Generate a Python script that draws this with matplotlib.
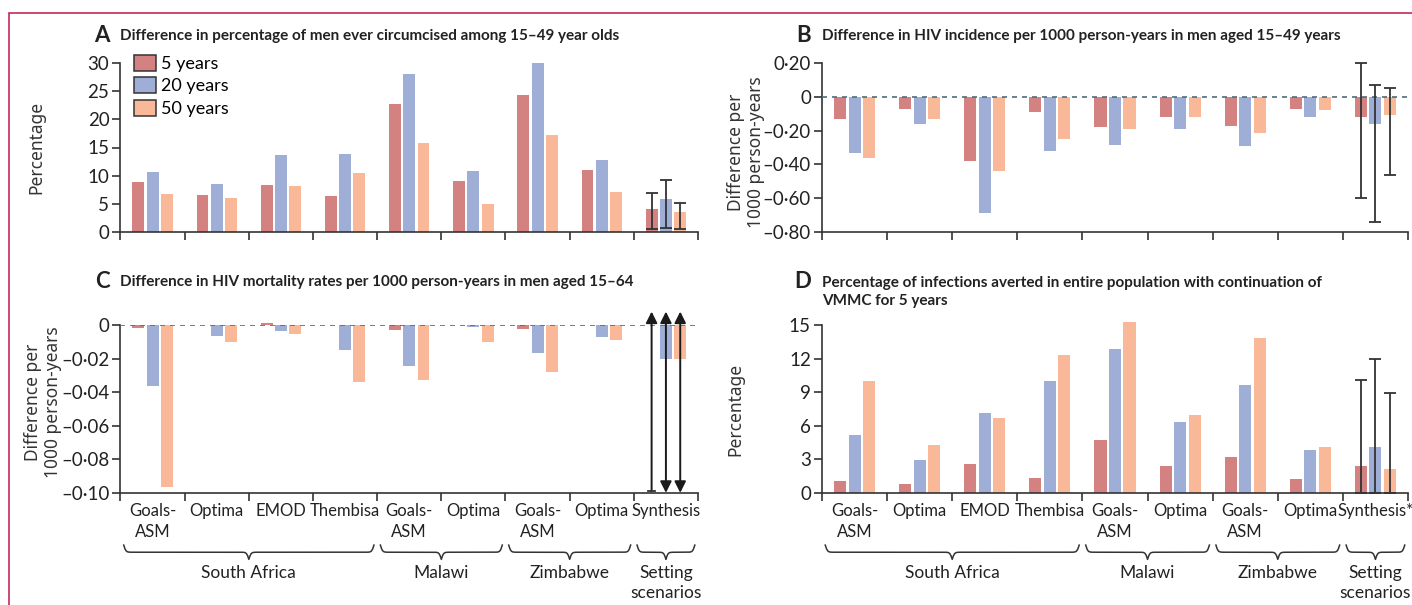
"""
VMMC scenarios: 4 panels of grouped bars (5, 20, 50 years) per model/setting
"""
import numpy as np
import matplotlib
matplotlib.use("Agg")
import matplotlib.pyplot as plt
from matplotlib.patches import Patch, Rectangle
from matplotlib import transforms

plt.rcParams['font.family'] = ['Lato', 'DejaVu Sans']

categories = ["Goals-\nASM", "Optima", "EMOD", "Thembisa", "Goals-\nASM",
              "Optima", "Goals-\nASM", "Optima", "Synthesis"]
groups = ["South Africa", "Malawi", "Zimbabwe", "Setting\nscenarios"]
group_first = [0, 4, 6, 8]
group_last = [3, 5, 7, 8]
series = ["5 years", "20 years", "50 years"]
colors = ["#d48181", "#9eaed6", "#f9b898"]

# A - difference in % men circumcised
a_5y = [8.8, 6.6, 8.4, 6.4, 22.8, 9.1, 24.4, 11.0, 4.1]
a_20y = [10.7, 8.6, 13.6, 13.8, 28.0, 10.9, 30.0, 12.7, 5.9]
a_50y = [6.8, 6.1, 8.2, 10.4, 15.8, 5.0, 17.3, 7.1, 3.6]
a_ci_low = [0.5, 0.7, 0.5]
a_ci_high = [6.9, 9.2, 5.1]

# B - difference in HIV incidence
b_5y = [-0.13, -0.07, -0.38, -0.09, -0.18, -0.12, -0.17, -0.07, -0.12]
b_20y = [-0.335, -0.16, -0.685, -0.32, -0.285, -0.19, -0.29, -0.12, -0.16]
b_50y = [-0.36, -0.13, -0.44, -0.25, -0.19, -0.12, -0.215, -0.08, -0.11]
b_ci_low = [-0.60, -0.74, -0.46]
b_ci_high = [0.20, 0.07, 0.05]

# C - difference in HIV mortality
c_5y = [-0.002, 0.0, 0.0012, 0.0, -0.003, 0.0, -0.0022, 0.0, 0.0]
c_20y = [-0.0366, -0.0064, -0.0034, -0.0147, -0.0243, -0.001, -0.0165, -0.007, -0.02]
c_50y = [-0.0966, -0.01, -0.0052, -0.034, -0.033, -0.01, -0.0277, -0.0088, -0.02]
c_ci_low = [-0.099, -0.0999, -0.0999]
c_ci_high = [0.008, 0.008, 0.008]
c_open_low = [False, True, True]   # interval goes past the axis -> arrow
c_open_high = [True, True, True]

# D - % infections averted
d_5y = [1.05, 0.8, 2.6, 1.38, 4.73, 2.43, 3.2, 1.29, 2.37]
d_20y = [5.2, 2.96, 7.1, 9.97, 12.87, 6.38, 9.67, 3.86, 4.13]
d_50y = [10.0, 4.3, 6.74, 12.28, 15.27, 7.0, 13.83, 4.07, 2.1]
d_ci_low = [0.0, 0.0, 0.0]
d_ci_high = [10.1, 11.95, 8.9]

W, H = 1412, 605
fig = plt.figure(figsize=(W / 100, H / 100), dpi=100)

def rect(left, top, right, bottom):
    return [left / W, 1 - bottom / H, (right - left) / W, (bottom - top) / H]

axA = fig.add_axes(rect(120.5, 63, 698, 232))
axB = fig.add_axes(rect(822, 63, 1408, 232))
axC = fig.add_axes(rect(120.5, 325, 698, 493))
axD = fig.add_axes(rect(822, 325, 1408, 493))

x = np.arange(len(categories))
offsets = [-0.223, 0.0, 0.223]
dark = "#333333"
txt = "#222222"

def bars(ax, vals):
    for k, v in enumerate(vals):
        ax.bar(x + offsets[k], v, width=0.185, color=colors[k], clip_on=False, zorder=2)

def style(ax, ylim, ticks, labels):
    ax.set_xlim(-0.5, len(categories) - 0.5)
    ax.set_ylim(*ylim)
    ax.set_xticks(np.arange(-0.5, len(categories), 1))
    ax.set_xticklabels([])
    ax.set_yticks(ticks)
    ax.set_yticklabels(labels)
    ax.spines['left'].set_bounds(ticks[0], ticks[-1])
    for s in ['top', 'right']:
        ax.spines[s].set_visible(False)
    for s in ['left', 'bottom']:
        ax.spines[s].set_color(dark)
        ax.spines[s].set_linewidth(1.2)
    ax.tick_params(axis='both', length=6, width=1.2, color=dark, labelsize=13.5, pad=2,
                   labelcolor=txt)

def title(ax, letter, text, y, ly=None):
    ax.text(0, y, text, transform=ax.transAxes, ha='left', va='center', fontsize=11,
            fontweight='bold', color=txt, linespacing=1.3)
    ax.annotate(letter, xy=(0, y if ly is None else ly), xycoords=ax.transAxes, xytext=(-8, 0),
                textcoords='offset points', ha='right', va='center', fontsize=16,
                fontweight='bold', color=txt)

def ylab(ax, text, xpos, ypos):
    ax.set_ylabel(text, fontsize=12.5, family=['Noto Sans', 'DejaVu Sans'], color="#333333",
                  linespacing=1.1)
    ax.yaxis.set_label_coords(xpos, ypos)

def zero_line(ax):
    ax.axhline(0, color="#4f6d7a", lw=1.2, ls=(0, (3, 3)), zorder=3)

def errbars(ax, vals, lo, hi):
    i = len(categories) - 1
    for k in range(3):
        v = vals[k][i]
        ax.errorbar(i + offsets[k], v, yerr=[[v - lo[k]], [hi[k] - v]], fmt='none',
                    ecolor=dark, elinewidth=1.3, capsize=4, capthick=1.3, zorder=4,
                    clip_on=False)

def brace(ax, x0, x1, ytop, h):
    # curly brace pointing down, in data x / axes y
    n = 201
    xs = np.linspace(x0, x1, n)
    half = xs[: n // 2 + 1]
    beta = 60.0
    yh = 1 / (1 + np.exp(-beta * (half - half[0]))) + 1 / (1 + np.exp(-beta * (half - half[-1])))
    yy = np.concatenate((yh, yh[-2::-1]))
    ys = ytop - h * (yy - 0.5)
    tr = transforms.blended_transform_factory(ax.transData, ax.transAxes)
    ax.plot(xs, ys, color=dark, lw=1.1, transform=tr, clip_on=False)

def bottom_labels(ax, labels):
    tr = transforms.blended_transform_factory(ax.transData, ax.transAxes)
    for i, lab in enumerate(labels):
        ax.text(i, -0.06, lab, transform=tr, ha='center', va='top', fontsize=12,
                color=txt, linespacing=1.35)
    for g, name in enumerate(groups):
        a, b = group_first[g] - 0.5 + 0.05, group_last[g] + 0.5 - 0.05
        brace(ax, a, b, -0.31, 0.085)
        ax.text((a + b) / 2, -0.43, name, transform=tr, ha='center', va='top', fontsize=12.5,
                color=txt, linespacing=1.3)

# A
bars(axA, [a_5y, a_20y, a_50y])
style(axA, (0, 30), [0, 5, 10, 15, 20, 25, 30], ["0", "5", "10", "15", "20", "25", "30"])
errbars(axA, [a_5y, a_20y, a_50y], a_ci_low, a_ci_high)
title(axA, "A", "Difference in percentage of men ever circumcised among 15\u201349 year olds", 1.16)
ylab(axA, "Percentage", -0.13, 0.5)
handles = [Patch(facecolor=c, edgecolor=dark, lw=1.1) for c in colors]
axA.legend(handles, series, loc='upper left', bbox_to_anchor=(0.024, 1.05), frameon=False,
           fontsize=13, handlelength=1.2, handleheight=1.0, handletextpad=0.3,
           labelspacing=0.3, borderpad=0, borderaxespad=0)

# B
bars(axB, [b_5y, b_20y, b_50y])
style(axB, (-0.8, 0.2), [-0.8, -0.6, -0.4, -0.2, 0, 0.2],
      ["\u20130\u00b780", "\u20130\u00b760", "\u20130\u00b740", "\u20130\u00b720", "0", "0\u00b720"])
zero_line(axB)
errbars(axB, [b_5y, b_20y, b_50y], b_ci_low, b_ci_high)
title(axB, "B", "Difference in HIV incidence per 1000 person-years in men aged 15\u201349 years", 1.16)
ylab(axB, "Difference per\n1000 person-years", -0.098, 0.47)

# C
bars(axC, [c_5y, c_20y, c_50y])
style(axC, (-0.1, 0.0), [-0.1, -0.08, -0.06, -0.04, -0.02, 0],
      ["\u20130\u00b710", "\u20130\u00b708", "\u20130\u00b706", "\u20130\u00b704", "\u20130\u00b702", "0"])
zero_line(axC)
i = len(categories) - 1
for k in range(3):
    xi = i + offsets[k]
    style_arrow = ('<|-|>' if c_open_low[k] else '-|>') if c_open_high[k] else '<|-'
    axC.annotate('', xy=(xi, c_ci_high[k]), xytext=(xi, c_ci_low[k]),
                 arrowprops=dict(arrowstyle=style_arrow, color="#1a1a1a", lw=1.4,
                                 mutation_scale=17, shrinkA=0, shrinkB=0),
                 annotation_clip=False, zorder=5)
    if not c_open_low[k]:
        axC.plot([xi - 0.05, xi + 0.05], [c_ci_low[k]] * 2, color=dark, lw=1.3,
                 clip_on=False, zorder=5)
title(axC, "C", "Difference in HIV mortality rates per 1000 person-years in men aged 15\u201364", 1.256)
ylab(axC, "Difference per\n1000 person-years", -0.102, 0.54)
bottom_labels(axC, categories)

# D
bars(axD, [d_5y, d_20y, d_50y])
style(axD, (0, 15), [0, 3, 6, 9, 12, 15], ["0", "3", "6", "9", "12", "15"])
errbars(axD, [d_5y, d_20y, d_50y], d_ci_low, d_ci_high)
title(axD, "D", "Percentage of infections averted in entire population with continuation of\nVMMC for 5 years", 1.196, 1.256)
ylab(axD, "Percentage", -0.133, 0.5)
bottom_labels(axD, categories[:-1] + ["Synthesis*"])

# journal frame line, left and top
fig.add_artist(Rectangle((9 / W, -0.2), 1.5, 1.2 - 13 / H, transform=fig.transFigure,
                         fill=False, edgecolor="#c42a57", lw=1.2))

fig.savefig("out.png", dpi=100)
